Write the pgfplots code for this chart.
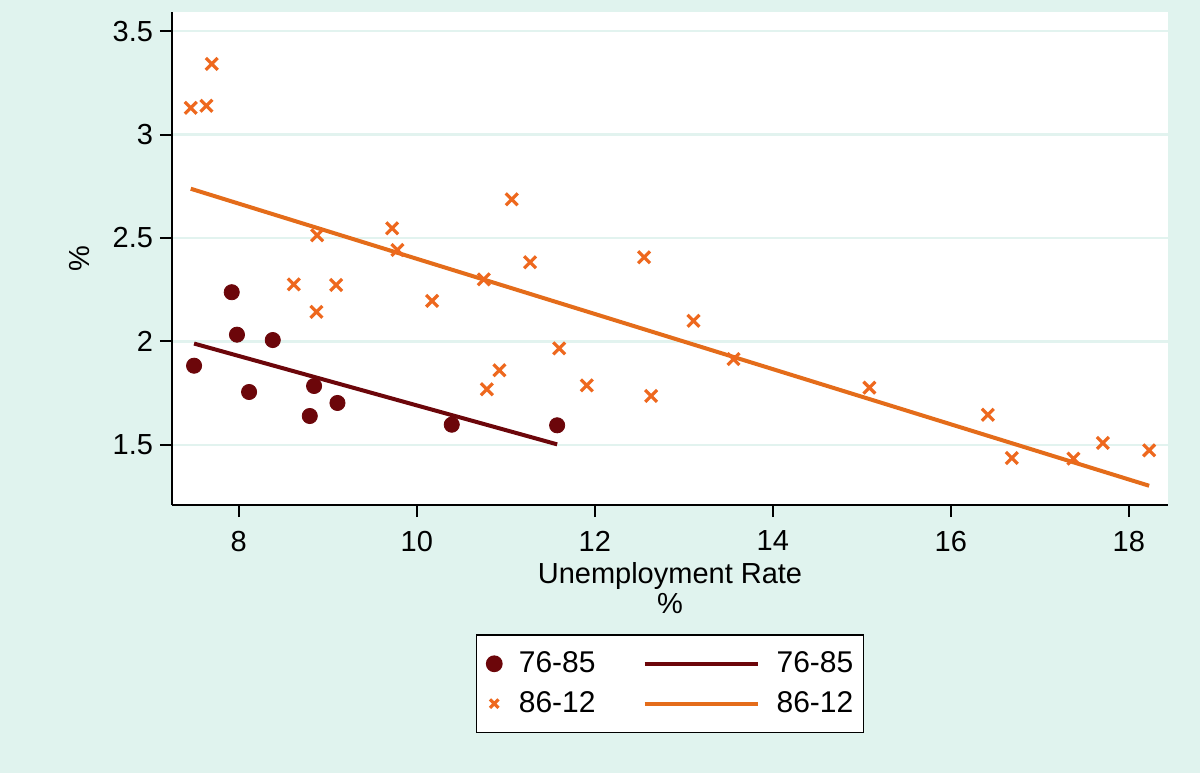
\documentclass[border=0pt]{standalone}
\usepackage{fontspec}
\setmainfont{Liberation Sans}
\usepackage{pgfplots}
\pgfplotsset{compat=1.18}
\definecolor{bgc}{RGB}{224,243,238}
\definecolor{gridc}{RGB}{226,243,239}
\definecolor{maroonc}{RGB}{108,6,10}
\definecolor{orangec}{RGB}{238,104,30}
\definecolor{orangel}{RGB}{228,108,26}
\pgfplotsset{
  markleg/.style={legend image code/.code={\draw[##1] plot coordinates {(0bp,0bp)};}},
  crossleg/.style={legend image code/.code={\draw[##1, mark size=3bp] plot coordinates {(0bp,0bp)};}},
  lineleg/.style={legend image code/.code={\draw[##1] (0bp,0bp) -- (56.5bp,0bp);}},
}
\begin{document}
\begin{tikzpicture}
\fill[bgc] (-86bp,-134bp) rectangle (514bp,252.5bp);
\begin{axis}[
  at={(0,0)}, anchor=south west,
  width=498bp, height=246.5bp, scale only axis,
  xmin=7.25, xmax=18.44, ymin=1.21, ymax=3.592,
  axis background/.style={fill=white},
  axis x line*=bottom, axis y line*=left,
  axis line style={black, line width=1bp, -},
  xtick={8,10,12,14,16,18},
  ytick={1.5,2,2.5,3,3.5},
  tick align=outside, major tick length=6bp,
  tick style={black, line width=1bp},
  ymajorgrids, grid style={gridc, line width=1.4bp},
  /pgf/number format/assume math mode=true,
  tick label style={font=\fontsize{14.5bp}{16bp}\selectfont},
  xticklabel style={yshift=-3.5bp},
  xlabel={Unemployment Rate\\\%},
  xlabel style={align=center, inner sep=0pt, font=\fontsize{14.5bp}{15bp}\selectfont,
    at={(axis description cs:0.5,0)}, anchor=north, yshift=-28.5bp},
  ylabel={\%},
  ylabel style={font=\fontsize{14.5bp}{15bp}\selectfont,
    at={(axis description cs:-0.0924,0.5)}, anchor=center},
  legend columns=2,
  legend cell align=left,
  legend style={at={(axis description cs:0.5,0)}, anchor=north, yshift=-64.5bp,
    draw=black, line width=0.8bp, fill=white,
    inner xsep=5bp, inner ysep=8.5bp,
    nodes={inner sep=0pt, font=\fontsize{15bp}{15bp}\selectfont},
    column sep=8.5bp, row sep=8bp,
    /tikz/every even column/.append style={column sep=23.5bp}},
]
% 76-85 scatter
\addplot[only marks, mark=*, mark size=3.8bp, color=maroonc, markleg]
coordinates {
(7.498,1.883) (7.921,2.238) (7.980,2.033) (8.382,2.007) (8.116,1.756)
(8.846,1.785) (8.798,1.640) (9.109,1.703) (10.393,1.598) (11.577,1.595)
};
\addlegendentry{76-85}
% 76-85 fit
\addplot[color=maroonc, line width=2bp, no marks, lineleg]
coordinates {(7.498,1.990) (11.577,1.503)};
\addlegendentry{76-85}
% 86-12 scatter
\addplot[only marks, mark=x, mark size=4.2bp, color=orangec, line width=1.6bp, crossleg]
coordinates {
(7.461,3.129) (7.637,3.139) (7.697,3.341) (8.618,2.276) (8.880,2.513)
(8.873,2.143) (9.094,2.273) (9.723,2.547) (9.783,2.442) (10.172,2.196)
(10.753,2.300) (10.787,1.769) (10.929,1.861) (11.067,2.687) (11.273,2.383)
(11.600,1.967) (11.910,1.788) (12.554,2.407) (12.633,1.737) (13.109,2.100)
(13.558,1.915) (15.085,1.777) (16.416,1.646) (16.685,1.437) (17.378,1.434)
(17.708,1.510) (18.228,1.474)
};
\addlegendentry{86-12}
% 86-12 fit
\addplot[color=orangel, line width=2bp, no marks, lineleg]
coordinates {(7.461,2.738) (18.228,1.303)};
\addlegendentry{86-12}
\end{axis}
\end{tikzpicture}
\end{document}
